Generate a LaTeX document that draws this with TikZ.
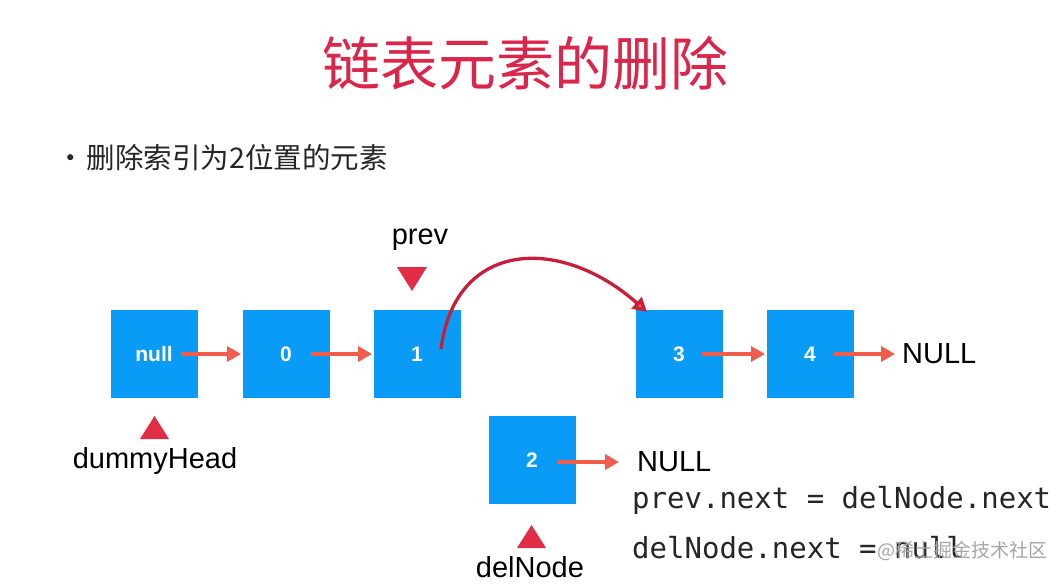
\documentclass[tikz,border=0pt]{standalone}
\usepackage{fontspec}
\setmainfont{Liberation Sans}
\setmonofont{DejaVu Sans Mono}
\newfontfamily\cjk{Noto Sans CJK SC}
\usetikzlibrary{arrows.meta}
\definecolor{boxblue}{RGB}{10,155,246}
\definecolor{arrowred}{RGB}{242,92,74}
\definecolor{curvered}{RGB}{200,30,60}
\definecolor{trired}{RGB}{226,45,70}
\definecolor{titlered}{RGB}{218,38,74}
\tikzset{
  listbox/.style={fill=boxblue, minimum width=87pt, minimum height=88pt, inner sep=0pt, text=white, font=\fontsize{21}{24}\selectfont\bfseries},
  link/.style={draw=arrowred, line width=3.6pt, -{Triangle[length=14pt,width=15pt]}},
  lbl/.style={font=\fontsize{29}{33}\selectfont, text=black, inner sep=0pt},
  code/.style={font=\ttfamily\fontsize{29}{34}\selectfont, text=black!85, inner sep=0pt, anchor=west},
}
\begin{document}
\begin{tikzpicture}[x=1pt,y=-1pt]
\useasboundingbox (0,0) rectangle (1064,583);
\fill[white] (0,0) rectangle (1064,583);
% title and bullet
\node[font=\cjk\fontsize{58}{64}\selectfont, text=titlered, inner sep=0pt] (title) at (525,63) {链表元素的删除};
\node[font=\cjk\fontsize{28.5}{32}\selectfont, text=black!85, inner sep=0pt, anchor=west] (bullet) at (56,158) {•\hspace{2pt}删除索引为2位置的元素};
% boxes
\node[listbox] (bnull) at (154,354) {null};
\node[listbox] (b0) at (286,354) {0};
\node[listbox] (b1) at (417,354) {1};
\node[listbox] (b3) at (679,354) {3};
\node[listbox] (b4) at (810,354) {4};
\node[listbox] (b2) at (532,460) {2};
\node[lbl, anchor=west] (null1) at (902,354) {NULL};
\node[lbl, anchor=west] (null2) at (637,462) {NULL};
% links
\coordinate (s0) at (181,354); \coordinate (e0) at (241,354);
\coordinate (s1) at (311,354); \coordinate (e1) at (372,354);
\coordinate (s3) at (702,354); \coordinate (e3) at (765,354);
\coordinate (s4) at (834,354); \coordinate (e4) at (895,354);
\coordinate (s2) at (557,462); \coordinate (e2) at (619,462);
\draw[link] (s0) -- (e0);
\draw[link] (s1) -- (e1);
\draw[link] (s3) -- (e3);
\draw[link] (s4) -- (e4);
\draw[link] (s2) -- (e2);
% curved arrow
\coordinate (cs) at (441,349);
\coordinate (ce) at (647,312);
\draw[draw=curvered, line width=3.3pt, -{Triangle[length=14pt,width=15pt,fill=arrowred]}] (cs) .. controls (455,240) and (560,235) .. (ce);
% pointers
\node[lbl] (prev) at (420,240) {prev};
\fill[trired] (397,267) -- (427,267) -- (412,291) -- cycle;
\fill[trired] (140,439) -- (169,439) -- (154.5,416) -- cycle;
\node[lbl] (dummy) at (155,461) {dummyHead};
\fill[trired] (517,548) -- (546,548) -- (531.5,525) -- cycle;
\node[lbl] (del) at (530,567) {delNode};
% code
\node[code] (c1) at (632,500) {prev.next = delNode.next};
\node[code] (c2) at (632,548) {delNode.next = null};
\node[font=\cjk\fontsize{19}{22}\selectfont, text=black!35, inner sep=0pt, anchor=west] (wm) at (877,551) {@稀土掘金技术社区};
\end{tikzpicture}
\end{document}
